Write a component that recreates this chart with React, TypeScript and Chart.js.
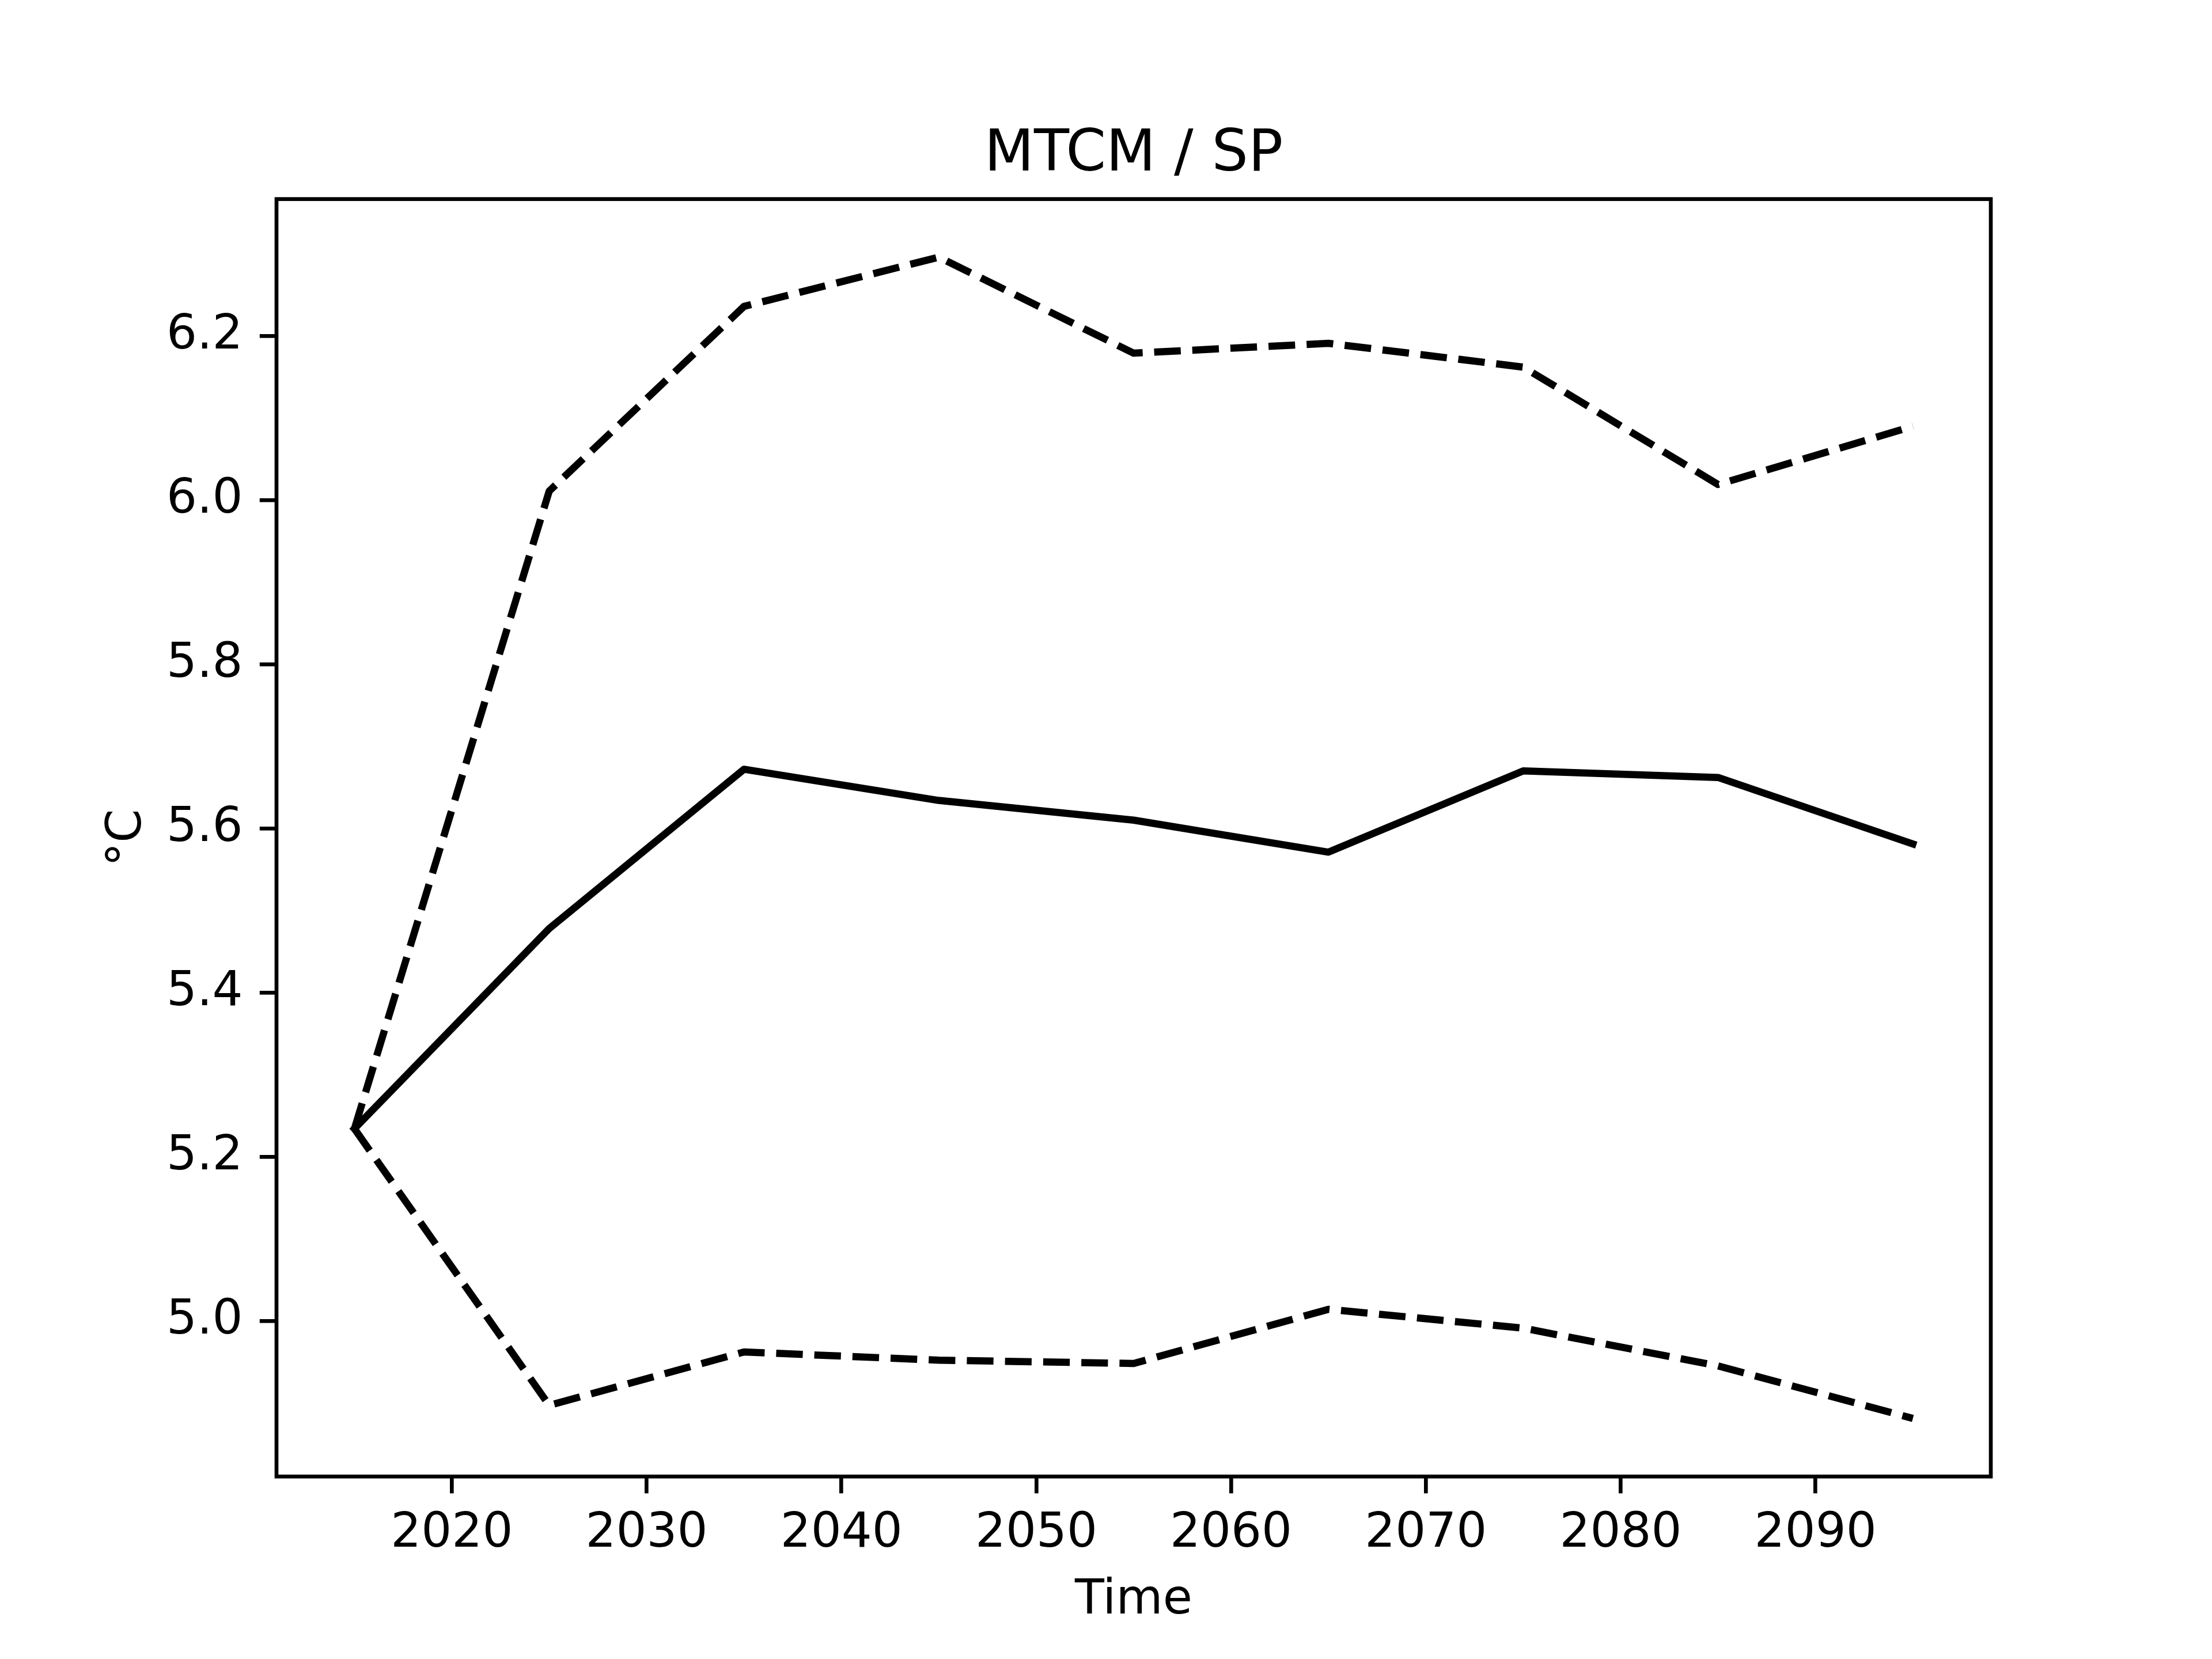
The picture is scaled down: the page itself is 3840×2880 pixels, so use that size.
import React, { useEffect, useRef } from "react";
import { Chart, registerables } from "chart.js";

Chart.register(...registerables);

const years = [2015, 2025, 2035, 2045, 2055, 2065, 2075, 2085, 2095];
const meanValues = [5.234, 5.478, 5.672, 5.634, 5.610, 5.571, 5.670, 5.662, 5.581];
const upperValues = [5.234, 6.011, 6.236, 6.296, 6.179, 6.191, 6.162, 6.019, 6.090];
const lowerValues = [5.234, 4.897, 4.962, 4.952, 4.948, 5.014, 4.991, 4.945, 4.881];
const xTickValues = [2020, 2030, 2040, 2050, 2060, 2070, 2080, 2090];
const yTickValues = [5.0, 5.2, 5.4, 5.6, 5.8, 6.0, 6.2];
const titleText = "MTCM / SP";
const xLabelText = "Time";
const yLabelText = "°C";

const W = 3840;
const H = 2880;
const AX_L = 480;
const AX_R = 3456;
const AX_T = 345.6;
const AX_B = 2563.2;
const FONT = "'DejaVu Sans', sans-serif";
const TICK_FONT = 83.33;
const LINE_W = 12.5;
const SPINE_W = 6.67;
const TICK_LEN = 29.2;
const TICK_PAD = 29.2;

export default function App() {
  const ref = useRef<HTMLCanvasElement | null>(null);

  useEffect(() => {
    document.body.style.margin = "0";
    document.body.style.overflow = "hidden";
    const canvas = ref.current;
    if (!canvas) return;

    const allVals = [...meanValues, ...upperValues, ...lowerValues];
    const dMin = Math.min(...allVals);
    const dMax = Math.max(...allVals);
    const yPad = (dMax - dMin) * 0.05;
    const xPad = (years[years.length - 1] - years[0]) * 0.05;

    const toPts = (arr: number[]) => arr.map((v, i) => ({ x: years[i], y: v }));

    const framePlugin = {
      id: "frame",
      afterDatasetsDraw(chart: any) {
        const ctx = chart.ctx;
        const a = chart.chartArea;
        ctx.save();
        ctx.strokeStyle = "#000";
        ctx.lineWidth = SPINE_W;
        ctx.lineJoin = "miter";
        ctx.strokeRect(a.left, a.top, a.right - a.left, a.bottom - a.top);
        ctx.restore();
      },
      afterDraw(chart: any) {
        const ctx = chart.ctx;
        const a = chart.chartArea;
        ctx.save();
        ctx.fillStyle = "#000";
        ctx.textAlign = "center";
        ctx.font = `100px ${FONT}`;
        ctx.textBaseline = "alphabetic";
        ctx.fillText(titleText, (a.left + a.right) / 2, a.top - 50);
        ctx.font = `${TICK_FONT}px ${FONT}`;
        ctx.textBaseline = "middle";
        ctx.fillText(xLabelText, (a.left + a.right) / 2, 2779);
        ctx.translate(222, (a.top + a.bottom) / 2);
        ctx.rotate(-Math.PI / 2);
        ctx.fillText(yLabelText, 0, 0);
        ctx.restore();
      },
    };

    const common = {
      borderColor: "#000",
      borderWidth: LINE_W,
      pointRadius: 0,
      pointHoverRadius: 0,
      tension: 0,
      fill: false,
      borderJoinStyle: "round" as const,
    };

    const chart = new Chart(canvas, {
      type: "line",
      data: {
        datasets: [
          { ...common, label: "mean", data: toPts(meanValues), borderCapStyle: "square" as const },
          { ...common, label: "upper", data: toPts(upperValues), borderDash: [46.25, 20], borderCapStyle: "butt" as const },
          { ...common, label: "lower", data: toPts(lowerValues), borderDash: [46.25, 20], borderCapStyle: "butt" as const },
        ],
      },
      options: {
        responsive: false,
        animation: false,
        devicePixelRatio: 1,
        events: [],
        layout: { padding: { left: 0, right: W - AX_R, top: AX_T, bottom: 0 } },
        plugins: {
          legend: { display: false },
          title: { display: false },
          tooltip: { enabled: false },
        },
        scales: {
          x: {
            type: "linear",
            min: years[0] - xPad,
            max: years[years.length - 1] + xPad,
            afterFit: (s: any) => {
              s.height = H - AX_B;
            },
            afterBuildTicks: (s: any) => {
              s.ticks = xTickValues.map((v) => ({ value: v }));
            },
            grid: {
              drawOnChartArea: false,
              drawTicks: true,
              tickLength: TICK_LEN,
              tickWidth: SPINE_W,
              tickColor: "#000",
              lineWidth: SPINE_W,
              color: "#000",
            },
            border: { display: false },
            ticks: {
              color: "#000",
              font: { family: FONT, size: TICK_FONT, lineHeight: 1.0 },
              padding: TICK_PAD,
              maxRotation: 0,
              minRotation: 0,
              autoSkip: false,
              callback: (v: any) => String(v),
            },
          },
          y: {
            type: "linear",
            min: dMin - yPad,
            max: dMax + yPad,
            afterFit: (s: any) => {
              s.width = AX_L;
            },
            afterBuildTicks: (s: any) => {
              s.ticks = yTickValues.map((v) => ({ value: v }));
            },
            grid: {
              drawOnChartArea: false,
              drawTicks: true,
              tickLength: TICK_LEN,
              tickWidth: SPINE_W,
              tickColor: "#000",
              lineWidth: SPINE_W,
              color: "#000",
            },
            border: { display: false },
            ticks: {
              color: "#000",
              font: { family: FONT, size: TICK_FONT, lineHeight: 1.0 },
              padding: TICK_PAD,
              autoSkip: false,
              callback: (v: any) => Number(v).toFixed(1),
            },
          },
        },
      },
      plugins: [framePlugin],
    });

    return () => chart.destroy();
  }, []);

  return (
    <div style={{ width: W, height: H, background: "#fff" }}>
      <canvas ref={ref} width={W} height={H} style={{ width: W, height: H, display: "block" }} />
    </div>
  );
}
